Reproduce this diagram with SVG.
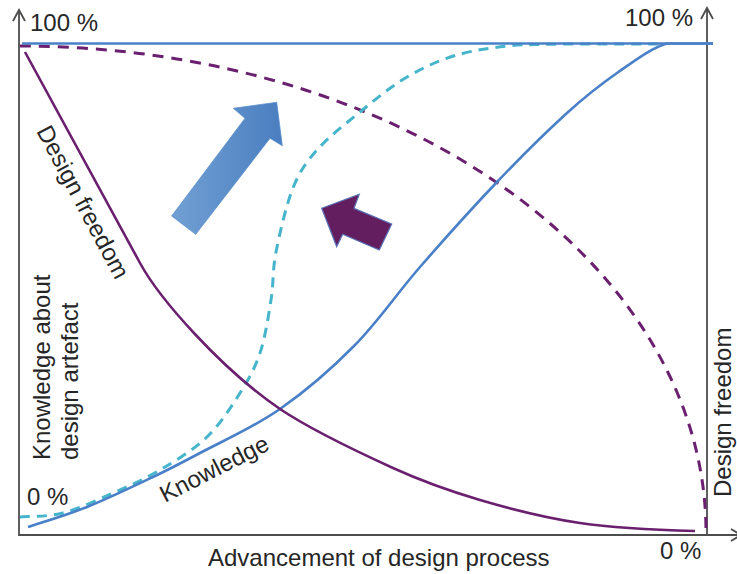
<svg xmlns="http://www.w3.org/2000/svg" width="737" height="574" viewBox="0 0 737 574">
<style>
.axis{stroke:#4d4d4d;stroke-width:1.8;fill:none}
.lbl{font-family:"Liberation Sans",Arial,sans-serif;font-size:24px;fill:#262626}
.blue{stroke:#4a80c8;stroke-width:2.6;fill:none}
.purple{stroke:#6a206e;stroke-width:2.6;fill:none}
.pdash{stroke:#6a206e;stroke-width:3;fill:none;stroke-dasharray:11 8}
.cdash{stroke:#46b5cc;stroke-width:3;fill:none;stroke-dasharray:10 7}
</style>
<defs>
<linearGradient id="bg" x1="0" y1="0" x2="1" y2="0">
<stop offset="0" stop-color="#72a0d3"/>
<stop offset="1" stop-color="#4a7ec0"/>
</linearGradient>
</defs>
<rect width="737" height="574" fill="#ffffff"/>
<g id="axes">
<path class="axis" d="M19,10 V535 H741"/>
<path class="axis" d="M13,21 L19,10 L25,21"/>
<path class="axis" d="M707,8 V535"/>
<path class="axis" d="M701,19 L707,8 L713,19"/>
<path class="axis" d="M731,529 L741,535 L731,541"/>
</g>
<g id="connectors">
<path id="design-freedom-dashed" class="pdash" d="M20,46 A686,486 0 0 1 706,532"/>
<path id="knowledge-dashed" class="cdash" d="M20,517 C27.2,516.3 47.5,517 63,513 C78.5,509 96.8,500.2 113,493 C129.2,485.8 144.3,479.3 160,470 C175.7,460.7 193.7,449.8 207,437 C220.3,424.2 231.2,407 240,393 C248.8,379 254.8,368.5 260,353 C265.2,337.5 268.3,316.8 271,300 C273.7,283.2 272.3,270.7 276,252 C279.7,233.3 286.2,205 293,188 C299.8,171 305.8,162.7 317,150 C328.2,137.3 345,124.2 360,112 C375,99.8 390.8,86.5 407,77 C423.2,67.5 438.7,60.3 457,55 C475.3,49.7 498.2,46.8 517,45 C535.8,44.5 546.2,44.2 570,44 L660,44"/>
<path id="top-line" class="blue" stroke-width="3" d="M22,43.5 H713"/>
<path id="knowledge-solid" class="blue" d="M28,527 C37.8,523.7 66.2,515.3 87,507 C107.8,498.7 134.2,486 153,477 C171.8,468 178.8,464.3 200,453 C221.2,441.7 254.2,427 280,409 C305.8,391 331.7,368.7 355,345 C378.3,321.3 396.3,294.2 420,267 C443.7,239.8 472.5,207.7 497,182 C521.5,156.3 547,131.2 567,113 C587,94.8 600.3,84.7 617,73 C633.7,61.3 651,48 667,43.5 L713,43.5"/>
<path id="design-freedom-solid" class="purple" d="M25,52 L140,263 C159,298 220,368 280,409 C312.2,430.7 359.7,452.8 393,468 C426.3,483.2 448.8,490.8 480,500 C511.2,509.2 544.2,517.7 580,523 C615.8,528.3 675.8,530.5 695,531"/>
</g>
<g id="arrow-blue">
<polygon points="171.7,216 245,118.3 233.3,108.3 276.7,102.3 282.3,145.7 270,138.3 195.7,234.3" fill="url(#bg)" stroke="#5b8fcc" stroke-width="0.8"/>
</g>
<g id="arrow-purple">
<polygon points="321.7,208.3 359.3,194.3 354,208.3 391.7,224 379.3,250 342.7,234.3 336.7,246.7" fill="#631e5f" stroke="#5a72b8" stroke-width="1.2"/>
</g>
<g id="labels">
<text class="lbl" x="30" y="31">100 %</text>
<text class="lbl" x="625" y="26">100 %</text>
<text class="lbl" x="27" y="505">0 %</text>
<text class="lbl" x="660" y="559">0 %</text>
<text class="lbl" x="208" y="566">Advancement of design process</text>
<text class="lbl" transform="translate(50,460) rotate(-90)">Knowledge about</text>
<text class="lbl" transform="translate(78,460) rotate(-90)">design artefact</text>
<text class="lbl" transform="translate(731,497) rotate(-90)">Design freedom</text>
<text class="lbl" transform="translate(36,131) rotate(62)">Design freedom</text>
<text class="lbl" transform="translate(165,503) rotate(-27)">Knowledge</text>
</g>
</svg>
